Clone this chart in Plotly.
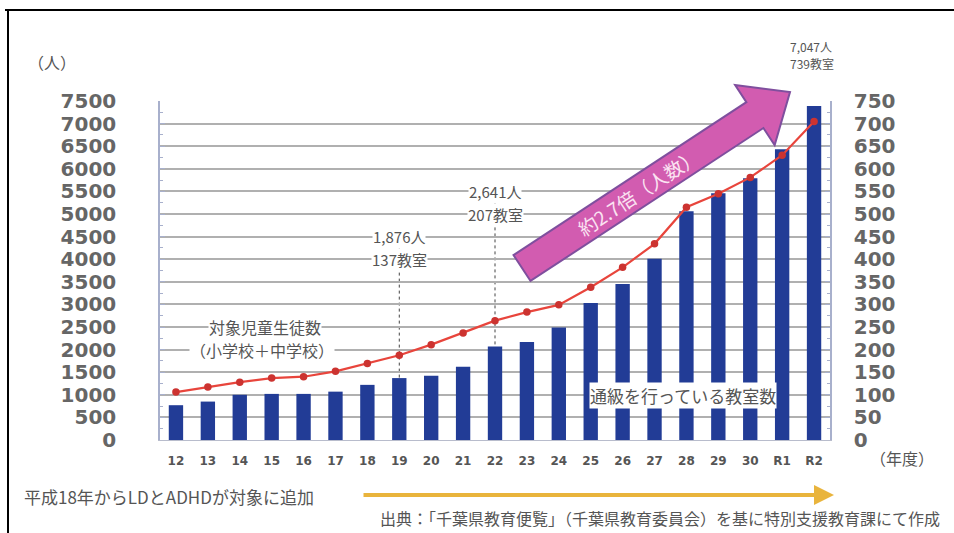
import numpy as np
import plotly.graph_objects as go

# 年度（平成12年度〜令和2年度）
years = ["12", "13", "14", "15", "16", "17", "18", "19", "20", "21",
         "22", "23", "24", "25", "26", "27", "28", "29", "30", "R1", "R2"]
# 対象児童生徒数（小学校＋中学校）[人]
students = [1060, 1170, 1280, 1370, 1400, 1520, 1690, 1876, 2110, 2370,
            2641, 2830, 2990, 3380, 3820, 4340, 5150, 5450, 5810, 6300, 7047]
# 通級を行っている教室数 [教室]
classrooms = [77, 85, 100, 102, 102, 107, 122, 137, 142, 162,
              207, 217, 249, 303, 345, 401, 506, 546, 579, 643, 739]

left_ticks = list(range(0, 7501, 500))
right_ticks = list(range(0, 751, 50))

W, H = 954, 533
L, R, T, B = 160, 830, 101, 440   # plot area in pixels

def px(x):
    return (x - L) / (R - L)

def py(y):
    return (B - y) / (B - T)

CJK = "Noto Sans CJK JP"
GRAY = "#555555"
i19, i22 = years.index("19"), years.index("22")
xs = list(range(len(years)))

fig = go.Figure()

# bars: classrooms on the right-hand axis
fig.add_trace(go.Bar(
    x=xs, y=classrooms, yaxis="y",
    marker=dict(color="#223c96", line=dict(width=0)),
    width=0.45, showlegend=False,
))
# line: students on the left-hand axis (overlay, drawn above bars)
fig.add_trace(go.Scatter(
    x=xs, y=students, yaxis="y2", mode="lines+markers",
    line=dict(color="#e8453c", width=2.2),
    marker=dict(color="#cc3330", size=7.5),
    showlegend=False,
))

annotations = []

def label(text, x, y, yref="y2", size=15, bg="white", xref="x", **kw):
    annotations.append(dict(
        text=text, x=x, y=y, xref=xref, yref=yref, showarrow=False,
        font=dict(family=CJK, size=size, color=GRAY),
        bgcolor=bg, xanchor="center", yanchor="middle", borderpad=0, **kw))

def note(text, x, y, size, xanchor="center", color=GRAY, **kw):
    annotations.append(dict(
        text=text, x=px(x), y=py(y), xref="paper", yref="paper", showarrow=False,
        xanchor=xanchor, yanchor="middle",
        font=dict(family=CJK, size=size, color=color), **kw))

# callouts for H19 and H22
label(f"{students[i19]:,}人", i19, 4500)
label(f"{classrooms[i19]}教室", i19, 4000)
label(f"{students[i22]:,}人", i22, 5500)
label(f"{classrooms[i22]}教室", i22, 5000)
# series labels
label("対象児童生徒数", 2.8, 2500, size=16)
label("（小学校＋中学校）", 2.7, 2000, size=16)
label("通級を行っている教室数", 15.9, 980, size=17)
# R2 value above the plot
note(f"{students[-1]:,}人", 811, 46, 12)
note(f"{classrooms[-1]}教室", 812, 64, 12)
# axis unit labels
note("（人）", 52, 62, 16)
note("（年度）", 902, 458, 16)
# footnotes
note("平成18年からLDとADHDが対象に追加", 22, 496, 17, xanchor="left")
note("出典：「千葉県教育便覧」（千葉県教育委員会）を基に特別支援教育課にて作成", 942, 518, 16,
     xanchor="right")
# orange timeline arrow
annotations.append(dict(text="", x=px(834), y=py(495), xref="paper", yref="paper",
                        ax=-(834 - 362), ay=0, axref="pixel", ayref="pixel",
                        showarrow=True, arrowhead=2, arrowsize=1, arrowwidth=4,
                        arrowcolor="#e9b43c"))

# big growth arrow
tail = np.array([522.0, 268.0])
tip = np.array([790.0, 92.0])
u = (tip - tail) / np.linalg.norm(tip - tail)
n = np.array([-u[1], u[0]])
hw, hh, hl = 15.5, 36.0, 42.0
base = tip - u * hl
pts = [tail - n * hw, base - n * hw, base - n * hh, tip,
       base + n * hh, base + n * hw, tail + n * hw]
path = "M " + " L ".join(f"{px(p[0]):.5f},{py(p[1]):.5f}" for p in pts) + " Z"
angle = np.degrees(np.arctan2(tip[1] - tail[1], tip[0] - tail[0]))
mid = tail + (base - tail) * 0.5
note("約2.7倍（人数）", mid[0], mid[1], 19, color="#fbe3f2", textangle=angle)

shapes = [
    dict(type="path", path=path, xref="paper", yref="paper",
         fillcolor="#d25cb0", line=dict(color="#7f4f9e", width=2), layer="above"),
    # dotted guides from callouts to bars
    dict(type="line", xref="x", yref="y2", x0=i19, x1=i19,
         y0=4500, y1=classrooms[i19] * 10,
         line=dict(color="#444", width=1, dash="dot"), layer="below"),
    dict(type="line", xref="x", yref="y2", x0=i22, x1=i22,
         y0=5500, y1=classrooms[i22] * 10,
         line=dict(color="#444", width=1, dash="dot"), layer="below"),
    # frame
    dict(type="line", xref="paper", yref="paper", x0=px(5), x1=px(954),
         y0=py(10), y1=py(10), line=dict(color="black", width=2)),
    dict(type="line", xref="paper", yref="paper", x0=px(8), x1=px(8),
         y0=py(10), y1=py(533), line=dict(color="black", width=2)),
]

fig.update_layout(
    width=W, height=H,
    margin=dict(l=L, r=W - R, t=T, b=H - B),
    paper_bgcolor="white", plot_bgcolor="white",
    xaxis=dict(tickvals=xs, ticktext=years,
               tickfont=dict(family="DejaVu Sans", size=12, color=GRAY, weight="bold"),
               ticks="", showline=True, linecolor="#b8bccc", linewidth=1,
               ticklabelstandoff=10, showgrid=False, zeroline=False,
               range=[-0.5, len(years) - 0.5]),
    yaxis=dict(side="right", range=[0, 750], tickvals=right_ticks,
               tickfont=dict(family="DejaVu Sans", size=20, color="#666", weight="bold"),
               showgrid=True, gridcolor="#b0b0b0", gridwidth=1.5,
               showline=True, linecolor="#a8b0cc", linewidth=1.5,
               ticks="inside", ticklen=5, tickcolor="#a8b0cc",
               minor=dict(ticks="inside", ticklen=3, dtick=25, tickcolor="#a8b0cc"),
               ticklabelstandoff=18, zeroline=False),
    yaxis2=dict(side="left", overlaying="y", range=[0, 7500], tickvals=left_ticks,
                tickfont=dict(family="DejaVu Sans", size=20, color="#666", weight="bold"),
                showgrid=False, showline=True, linecolor="#a8b0cc", linewidth=1.5,
                ticks="inside", ticklen=5, tickcolor="#a8b0cc",
                minor=dict(ticks="inside", ticklen=3, dtick=250, tickcolor="#a8b0cc"),
                ticklabelstandoff=38, zeroline=False),
    annotations=annotations,
    shapes=shapes,
)

fig.write_html("out.html")
